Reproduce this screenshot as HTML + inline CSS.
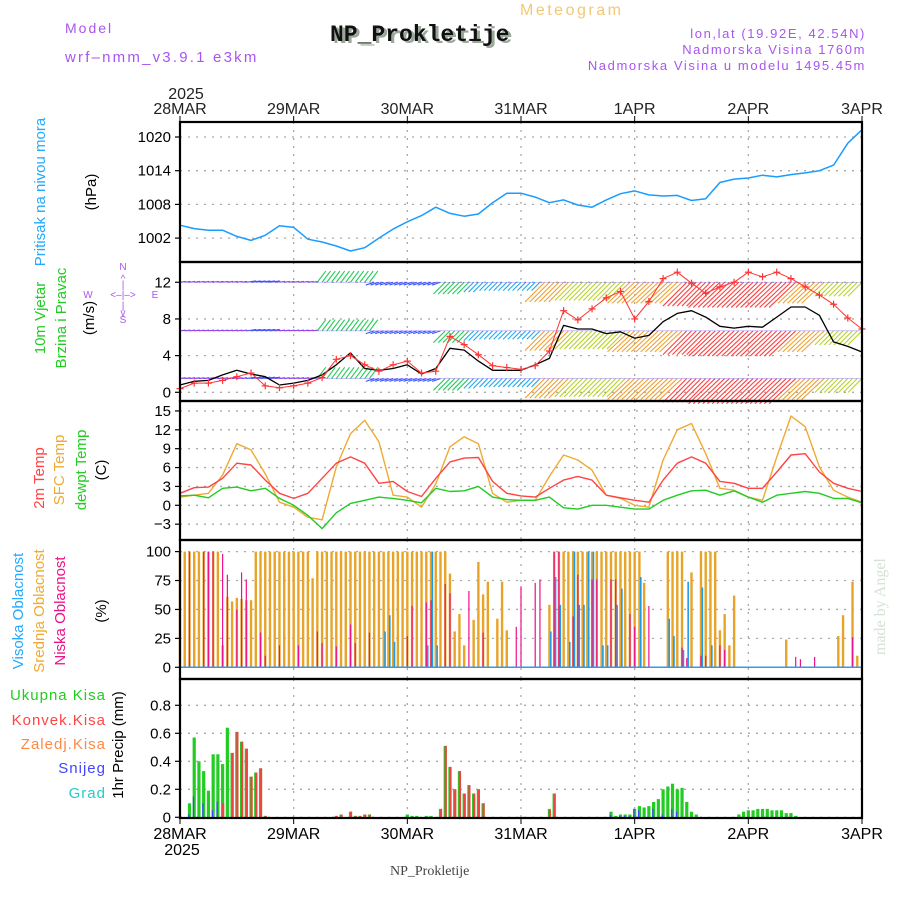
<!DOCTYPE html>
<html><head><meta charset="utf-8"><title>Meteogram NP_Prokletije</title>
<style>
html,body{margin:0;padding:0;background:#fff;}
svg{display:block;font-family:"Liberation Sans",sans-serif;}
</style></head>
<body>
<svg id="chart" width="900" height="900" viewBox="0 0 900 900" xmlns="http://www.w3.org/2000/svg">
<g id="header">
  <text x="65" y="33" font-size="14" fill="#a855f0" letter-spacing="2">Model</text>
  <text x="65" y="62" font-size="15" fill="#a855f0" letter-spacing="2.2">wrf–nmm_v3.9.1 e3km</text>
  <text x="333" y="43" font-size="23" font-weight="bold" font-family="Liberation Mono, monospace" fill="#9aa89a">NP_Prokletije</text>
  <text x="330" y="41" font-size="23" font-weight="bold" font-family="Liberation Mono, monospace" fill="#111">NP_Prokletije</text>
  <text x="520" y="15" font-size="16" fill="#f2c878" letter-spacing="2.5">Meteogram</text>
  <text x="866" y="38" font-size="13" fill="#a855f0" text-anchor="end" letter-spacing="1.6">lon,lat (19.92E, 42.54N)</text>
  <text x="866" y="54" font-size="13" fill="#a855f0" text-anchor="end" letter-spacing="1.6">Nadmorska Visina 1760m</text>
  <text x="866" y="70" font-size="13" fill="#a855f0" text-anchor="end" letter-spacing="1.6">Nadmorska Visina u modelu 1495.45m</text>
  <text x="390" y="875" font-size="14" font-family="Liberation Serif, serif" fill="#444">NP_Prokletije</text>
  <text transform="translate(885,655) rotate(-90)" font-size="16" font-family="Liberation Serif, serif" fill="#d4e2d4">made by Angel</text>
</g>
<g id="labels">
  <text transform="translate(45,192) rotate(-90)" font-size="15" fill="#22aaff" text-anchor="middle">Pritisak na nivou mora</text>
  <text transform="translate(96,192) rotate(-90)" font-size="15" fill="#000" text-anchor="middle">(hPa)</text>
  <text transform="translate(45,318) rotate(-90)" font-size="15" fill="#22cc22" text-anchor="middle">10m Vjetar</text>
  <text transform="translate(66,318) rotate(-90)" font-size="15" fill="#22cc22" text-anchor="middle">Brzina i Pravac</text>
  <text transform="translate(94,318) rotate(-90)" font-size="15" fill="#000" text-anchor="middle">(m/s)</text>
  <g fill="#a855f0" font-size="10" text-anchor="middle">
    <text x="123" y="270">N</text><text x="123" y="323">S</text><text x="88" y="298">W</text><text x="155" y="298">E</text>
    <text x="123" y="298">&lt;–|–&gt;</text>
    <text x="123" y="282">^</text><text x="123" y="288">|</text><text x="123" y="309">|</text><text x="123" y="316">v</text>
  </g>
  <text transform="translate(44,478) rotate(-90)" font-size="15" fill="#ff4444" text-anchor="middle">2m Temp</text>
  <text transform="translate(64,470) rotate(-90)" font-size="15" fill="#eeaa33" text-anchor="middle">SFC Temp</text>
  <text transform="translate(86,470) rotate(-90)" font-size="15" fill="#22cc22" text-anchor="middle">dewpt Temp</text>
  <text transform="translate(106,470) rotate(-90)" font-size="15" fill="#000" text-anchor="middle">(C)</text>
  <text transform="translate(23,611) rotate(-90)" font-size="15" fill="#22aaff" text-anchor="middle">Visoka Oblacnost</text>
  <text transform="translate(44,611) rotate(-90)" font-size="15" fill="#eeaa33" text-anchor="middle">Srednja Oblacnost</text>
  <text transform="translate(65,611) rotate(-90)" font-size="15" fill="#ee1188" text-anchor="middle">Niska Oblacnost</text>
  <text transform="translate(106,611) rotate(-90)" font-size="15" fill="#000" text-anchor="middle">(%)</text>
  <g font-size="15" text-anchor="end" letter-spacing="1">
    <text x="106" y="700" fill="#22cc22">Ukupna  Kisa</text>
    <text x="106" y="725" fill="#ff4444">Konvek.Kisa</text>
    <text x="106" y="749" fill="#ff8844">Zaledj.Kisa</text>
    <text x="106" y="773" fill="#4444ff">Snijeg</text>
    <text x="106" y="798" fill="#22cccc">Grad</text>
  </g>
  <text transform="translate(123,745) rotate(-90)" font-size="15" fill="#000" text-anchor="middle">1hr Precip (mm)</text>
</g>
<g id="grid"></g>
<g id="marks"></g>
<g id="frames"></g>
<g id="ticks"></g>
</svg>
<script>
const NS = "http://www.w3.org/2000/svg";
// ---------- DATA ----------
const dayLabels = ["28MAR","29MAR","30MAR","31MAR","1APR","2APR","3APR"];
const yearLabel = "2025";
const pressureTicks = [1002,1008,1014,1020];
const windTicks = [0,4,8,12];
const tempTicks = [-3,0,3,6,9,12,15];
const cloudTicks = [0,25,50,75,100];
const precipTicks = [0,0.2,0.4,0.6,0.8];
// pressure, 3-hourly from 28MAR 00 (hPa)
const pressure = [1004.3,1003.7,1003.4,1003.4,1002.3,1001.6,1002.5,1004.2,1003.9,1001.8,1001.3,1000.6,999.7,1000.3,1002.0,1003.6,1004.9,1006.0,1007.5,1006.4,1005.9,1006.3,1008.3,1010.0,1010.0,1009.3,1008.3,1008.8,1007.9,1007.5,1008.8,1009.9,1010.4,1009.7,1009.5,1009.6,1008.7,1009.0,1011.9,1012.5,1012.7,1013.2,1012.9,1013.3,1013.6,1014.0,1015.0,1018.9,1021.3];
// wind speed (black) and gust (red crosses), 3-hourly (m/s)
const windSpeed = [0.8,1.2,1.3,1.9,2.4,2.0,1.7,0.8,1.0,1.3,1.9,3.0,4.3,2.6,2.4,2.6,3.0,2.0,2.6,4.8,4.6,3.4,2.4,2.4,2.4,3.0,3.7,7.3,6.9,6.9,6.4,6.6,5.9,6.2,7.7,8.6,8.9,8.2,7.2,7.0,7.2,7.1,8.2,9.3,9.3,8.4,5.5,5.0,4.4];
const windGust = [0.4,1.0,1.0,1.3,1.7,2.1,0.7,0.5,0.7,1.0,1.6,3.6,4.0,3.0,2.3,3.0,3.4,2.1,2.3,6.1,5.2,4.1,2.9,2.7,2.5,2.9,4.5,8.9,7.9,9.1,10.3,11.0,8.0,9.9,12.4,13.1,11.9,10.8,11.5,12.0,13.1,12.6,13.1,12.4,11.5,10.6,9.6,8.1,6.9];
// wind vector components for arrows, 3-hourly (m/s)
const windU = [2,2,2,2,2,3.5,3.5,2,2,2,3,3,3,3,-3,-3,-3,-3,-3,-4.2,-4.2,-3.5,-3,-3,-3,-3,-7,-7,-6.5,-6.5,-6.5,-6.5,-8,-8,-8,-8,-8.5,-8.5,-9.5,-9.5,-9.5,-9.5,-9.5,-9.5,-8,-8,-5,-5,-5];
const windV = [0.3,0.3,0.3,0.3,0.3,0.5,0.5,0.3,0.3,0.3,4,4,4,4,-1,-1,-1,-1,-1,-4.2,-4.2,-3.5,-3,-3,-3,-3,-7,-7,-6.5,-6.5,-6.5,-6.5,-7.5,-7.5,-7.5,-7.5,-8.5,-8.5,-9,-9,-9,-9,-9,-9,-7.5,-7.5,-5,-5,-5];
const windLevels = [12,6.7,1.5];
// temperatures, 3-hourly (C)
const temp2m = [1.9,2.8,2.9,4.3,6.7,6.4,4.0,1.9,1.1,1.9,4.3,6.7,7.7,6.7,3.5,3.8,2.2,1.4,4.3,6.9,7.5,7.6,3.8,1.9,1.5,1.3,2.7,4.0,4.6,4.0,1.6,1.2,0.8,0.5,4.0,6.7,7.7,6.7,3.8,3.5,2.7,2.7,5.3,8.0,8.2,5.3,3.5,2.7,2.2];
const tempSfc = [1.3,1.6,1.9,4.8,9.8,8.8,5.0,0.5,-0.3,-1.9,-2.3,6.1,11.4,13.5,10.1,1.6,1.3,-0.3,3.4,9.3,10.9,9.8,1.9,0.5,0.8,0.8,4.6,8.0,7.2,5.6,1.6,1.1,0.0,-0.3,7.2,12.0,13.0,8.2,2.7,2.4,1.3,0.8,7.7,14.2,12.5,6.1,2.4,1.3,0.5];
const dewpt = [1.5,1.6,1.2,2.7,2.9,2.3,2.7,1.1,0.0,-1.6,-3.7,-1.2,0.3,0.8,1.3,1.1,0.8,0.4,2.7,2.2,2.3,3.0,1.3,0.9,0.8,0.8,1.3,-0.4,-0.6,0.0,0.0,-0.3,-0.6,-0.6,0.8,1.6,2.3,2.4,1.6,2.3,1.3,0.5,1.6,1.9,2.2,1.9,1.1,1.1,0.4];
// cloud cover, hourly (%)
const cloudMid = [100,100,100,100,100,100,100,100,100,19,61,57,60,59,58,58,100,100,100,100,100,100,100,100,100,100,100,100,77,100,100,100,100,100,100,100,100,100,100,100,100,100,100,100,100,100,100,100,100,100,100,100,100,100,100,100,100,81,31,46,19,0,41,91,63,74,0,42,74,32,0,0,0,0,0,0,0,0,54,100,100,100,100,100,100,100,100,100,100,100,100,100,100,100,100,100,100,100,73,0,0,0,0,100,100,100,100,0,82,0,100,100,100,100,32,46,19,62,0,0,0,0,0,0,0,0,0,0,24,0,0,0,0,0,0,0,0,0,0,27,45,0,74,10,0];
const cloudLowHours = [2,5,6,7,9,10,12,13,14,17,18,21,25,29,30,33,36,37,40,48,49,52,53,56,57,61,64,71,72,75,76,79,80,83,84,87,88,91,92,95,96,99,106,107,110,111,114,115,130,131,134,142];
const cloudLowValues = [100,100,100,100,98,80,50,82,76,30,10,19,19,31,21,18,37,21,30,27,53,56,58,72,64,66,30,35,70,73,76,100,100,44,80,76,76,76,76,46,35,53,17,8,10,10,19,15,9,7,9,26];
const cloudHighHours = [43,44,45,52,53,54,78,79,80,82,83,84,85,86,87,89,90,92,93,97,103,104,106,107,110,112];
const cloudHighValues = [31,45,22,19,100,19,31,78,54,22,100,54,54,100,100,19,19,54,68,78,42,27,15,74,69,19];
// precipitation, hourly (mm)
const precipHours = [2,3,4,5,6,7,8,9,10,11,12,13,14,15,16,17,18,33,34,36,37,38,39,40,48,49,50,52,53,55,56,57,58,59,60,61,62,63,64,78,79,91,92,93,94,95,96,97,98,99,100,101,102,103,104,105,106,107,108,109,118,119,120,121,122,123,124,125,126,127,128,129,130];
const precipTotal = [0.10,0.57,0.40,0.33,0.19,0.45,0.45,0.38,0.64,0.46,0.61,0.54,0.49,0.29,0.32,0.35,0.01,0.01,0.02,0.04,0.01,0.01,0.02,0.02,0.02,0.01,0.01,0.01,0.01,0.06,0.51,0.36,0.20,0.33,0.17,0.23,0.17,0.20,0.10,0.06,0.17,0.04,0.01,0.02,0.02,0.02,0.06,0.08,0.07,0.08,0.11,0.13,0.20,0.22,0.24,0.20,0.21,0.11,0.04,0.02,0.02,0.04,0.05,0.05,0.06,0.06,0.06,0.05,0.05,0.05,0.03,0.03,0.01];
const precipConv = [0,0,0,0,0,0,0,0.10,0,0.46,0.61,0.54,0.49,0.29,0.32,0.35,0.01,0.01,0.02,0.04,0.01,0.01,0.02,0.02,0,0,0,0,0,0.06,0.51,0.36,0.20,0.33,0.17,0.23,0.17,0.20,0.10,0.05,0.17,0,0,0,0,0,0,0,0,0,0,0,0,0,0,0,0,0,0,0,0,0,0,0,0,0,0,0,0,0,0,0,0];
const precipSnow = [0.02,0.15,0,0.10,0,0.05,0.11,0,0,0,0,0,0,0,0,0,0,0,0,0,0,0,0,0,0,0,0,0,0,0,0,0,0,0,0,0,0,0,0,0,0,0.02,0,0.01,0.01,0.01,0.06,0.05,0,0,0.06,0,0.02,0,0.06,0.04,0,0,0,0,0,0,0,0,0,0,0,0,0,0,0,0,0];

// ---------- AXES ----------
const X0 = 180, X1 = 862, HOURS = 144;
const xH = h => X0 + h*(X1-X0)/HOURS;
const panels = {
  pressure:{top:122,bot:262,y:v=>137+(1020-v)*5.617},
  wind:{top:262,bot:401,y:v=>392.3-v*9.17},
  temp:{top:401,bot:540,y:v=>505.3-v*6.29},
  cloud:{top:540,bot:679,y:v=>667.3-v*1.157},
  precip:{top:679,bot:818,y:v=>817.3-v*140}
};
function el(tag, attrs, parent){const e=document.createElementNS(NS,tag);for(const k in attrs)e.setAttribute(k,attrs[k]);parent.appendChild(e);return e;}
const gGrid=document.getElementById('grid'), gMarks=document.getElementById('marks'), gFrames=document.getElementById('frames'), gTicks=document.getElementById('ticks');

for(const [name,p] of Object.entries(panels)){
  for(let d=1; d<dayLabels.length-1; d++){
    const gl=el('line',{x1:xH(d*24),x2:xH(d*24),y1:p.top,y2:p.bot,stroke:'#aaa','stroke-width':1.3,'stroke-dasharray':'2,6'},gGrid);
    
    
  }
  const ticks = {pressure:pressureTicks,wind:windTicks,temp:tempTicks,cloud:cloudTicks,precip:precipTicks}[name];
  ticks.forEach(t=>{
    const y=p.y(t);
    const gl=el('line',{x1:X0,x2:X1,y1:y,y2:y,stroke:'#aaa','stroke-width':1.3,'stroke-dasharray':'2,6'},gGrid);
    
    
    el('line',{x1:X0-5,x2:X0,y1:y,y2:y,stroke:'#000','stroke-width':1.2},gTicks);
    const lbl = name==='precip' ? (t===0?'0':t.toFixed(1)) : String(t);
    const tx=el('text',{x:X0-9,y:y+5,'font-size':15,'text-anchor':'end',fill:'#000'},gTicks);
    tx.textContent = lbl.replace('-','−');
    
    
  });
  const fr=el('rect',{x:X0,y:p.top,width:X1-X0,height:p.bot-p.top,fill:'none',stroke:'#000','stroke-width':2.2},gFrames);
  
  
}
dayLabels.forEach((lab,i)=>{
  const x=xH(i*24);
  el('line',{x1:x,x2:x,y1:116,y2:122,stroke:'#000'},gTicks);
  el('line',{x1:x,x2:x,y1:818,y2:824,stroke:'#000'},gTicks);
  const t1=el('text',{x:x,y:114,'font-size':16,'text-anchor':'middle',fill:'#222'},gTicks);
  t1.textContent=lab;
  
  
  const t2=el('text',{x:x,y:839,'font-size':16,'text-anchor':'middle',fill:'#000'},gTicks);
  t2.textContent=lab;
  
  
});
const yt=el('text',{x:xH(0)+6,y:99,'font-size':16,'text-anchor':'middle',fill:'#222'},gTicks);
yt.textContent=yearLabel;


const yb=el('text',{x:xH(0)+2,y:855,'font-size':16,'text-anchor':'middle',fill:'#000'},gTicks);
yb.textContent=yearLabel;



function line3h(arr, panel, color, name, w){
  const pts=arr.map((v,i)=>xH(i*3).toFixed(1)+','+panels[panel].y(v).toFixed(1)).join(' ');
  const pl=el('polyline',{points:pts,fill:'none',stroke:color,'stroke-width':w||1.4,'stroke-linejoin':'round'},gMarks);
  
  
}
line3h(pressure,'pressure','#1a9cff','pressure-line',1.5);
function windColor(m){
  if(m<2.6) return '#9933ee'; if(m<3.8) return '#3355ff'; if(m<5) return '#22aaee';
  if(m<6.2) return '#22cc55'; if(m<9.6) return '#b8d22a'; if(m<11.5) return '#f0a030'; return '#ff4040';
}
const gWind=el('g',{},gMarks);


windLevels.forEach(lv=>{
  for(let h=0; h<=HOURS; h++){
    const k=Math.min(Math.round(h/3), windU.length-1);
    const u=windU[k], v=windV[k], m=Math.hypot(u,v);
    const x=xH(h), y=panels.wind.y(lv);
    const s=2.8;
    const a=el('line',{x1:x,y1:y,x2:x+u*s,y2:y-v*s,stroke:windColor(m),'stroke-width':1.1},gWind);
    
    
  }
  const bl=el('line',{x1:X0,x2:X1,y1:panels.wind.y(lv),y2:panels.wind.y(lv),stroke:'#7a5af0','stroke-width':0.6,opacity:0.6},gWind);
  
  
});
line3h(windSpeed,'wind','#000','wind-speed-line',1.3);
line3h(windGust,'wind','#ff3333','wind-gust-line',1);
windGust.forEach((v,i)=>{
  const x=xH(i*3), y=panels.wind.y(v);
  const c=el('path',{d:`M${x-3.5},${y}H${x+3.5}M${x},${y-3.5}V${y+3.5}`,stroke:'#ff3333','stroke-width':1.2},gMarks);
  
  
});
line3h(tempSfc,'temp','#eeaa33','sfc-temp-line',1.4);
line3h(temp2m,'temp','#ff4444','temp2m-line',1.4);
line3h(dewpt,'temp','#22cc22','dewpt-line',1.4);
const cy=panels.cloud.y;
cloudMid.forEach((v,h)=>{
  if(v<=0) return;
  const r=el('rect',{x:xH(h)-1.2,y:cy(v),width:2.4,height:cy(0)-cy(v),fill:'#e8a428'},gMarks);
  
  
});
cloudHighHours.forEach((h,i)=>{
  const v=cloudHighValues[i];
  const r=el('rect',{x:xH(h)+0.6,y:cy(v),width:1.6,height:cy(0)-cy(v),fill:'#1e9be8'},gMarks);
  
  
});
cloudLowHours.forEach((h,i)=>{
  const v=cloudLowValues[i];
  const r=el('rect',{x:xH(h)-0.6,y:cy(v),width:1.2,height:cy(0)-cy(v),fill:'#ee1188'},gMarks);
  
  
});
const base=el('line',{x1:X0,x2:X1,y1:cy(0),y2:cy(0),stroke:'#3399ee','stroke-width':1.5},gMarks);


const py=panels.precip.y;
precipHours.forEach((h,i)=>{
  const x=xH(h);
  const t=precipTotal[i], c=precipConv[i], s=precipSnow[i];
  const r=el('rect',{x:x-1.6,y:py(t),width:3.2,height:py(0)-py(t),fill:'#22cc22'},gMarks);
  
  
  if(c>0){
    const rc=el('rect',{x:x-0.6,y:py(c),width:2.2,height:py(0)-py(c),fill:'#ee4444'},gMarks);
    
    
  }
  if(s>0){
    const rs=el('rect',{x:x-1.4,y:py(s),width:1.3,height:py(0)-py(s),fill:'#4444ff'},gMarks);
    
    
  }
});
</script>
</body></html>
